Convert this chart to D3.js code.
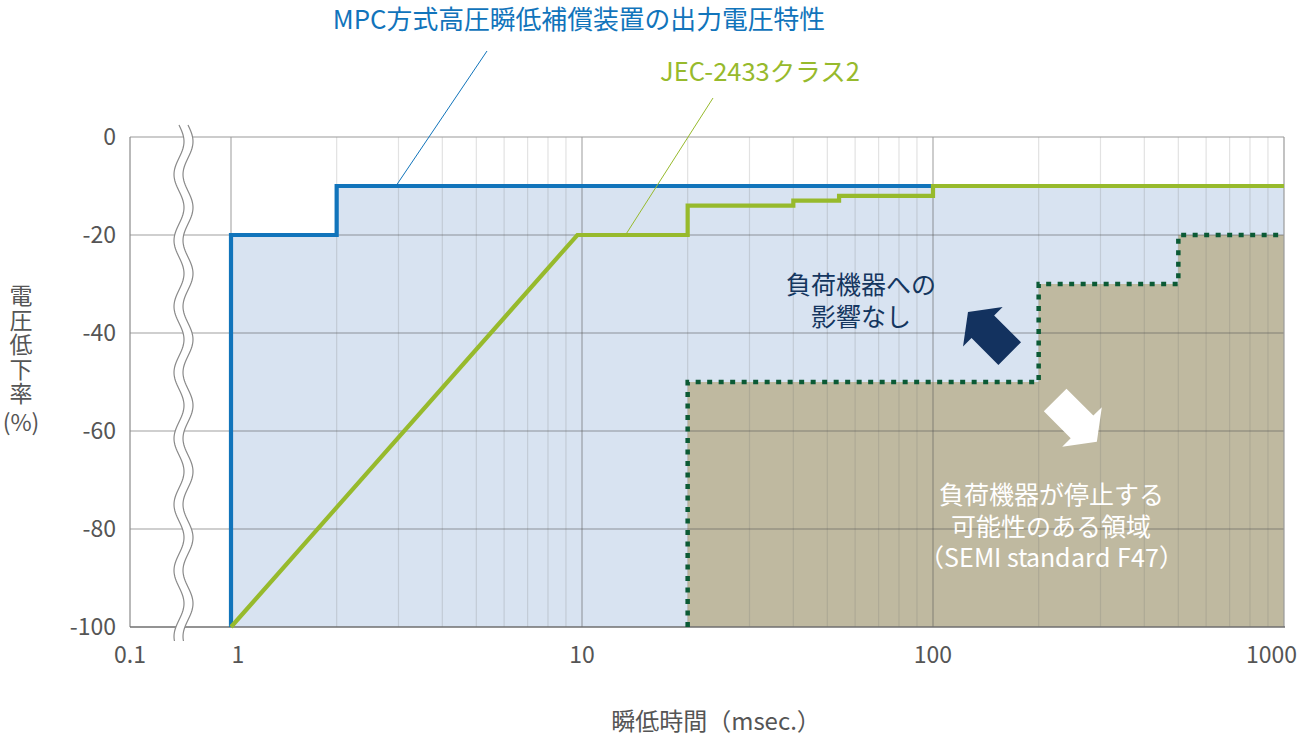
<!DOCTYPE html>
<html><head><meta charset="utf-8">
<script src="https://cdn.jsdelivr.net/npm/d3@7"></script>
<style>
@font-face{font-family:"CJKtight";src:local("Noto Sans CJK JP"),local("Noto Sans CJK JP Regular"),local("NotoSansCJKjp-Regular");ascent-override:90%;descent-override:22%;line-gap-override:0%;}
body{margin:0;background:#fff;}
text{font-family:"Noto Sans CJK JP","Noto Sans",sans-serif;}
text.tight{font-family:"CJKtight","Noto Sans CJK JP","Noto Sans",sans-serif;}
</style></head>
<body><svg id="c" width="1300" height="743"></svg>
<script>
// ---- data ----
const xTickValues = [0.1, 1, 10, 100, 1000];
const xTickLabels = ["0.1", "1", "10", "100", "1000"];
const yTickValues = [0, -20, -40, -60, -80, -100];
const yTickLabels = ["0", "-20", "-40", "-60", "-80", "-100"];

const mpcTime = [1, 1, 2, 2, 100];
const mpcDrop = [-100, -20, -20, -10, -10];
const mpcFillTime = [1000, 1000];
const mpcFillDrop = [-10, -100];

const jecTime = [1, 9.7, 20, 20, 40, 40, 54, 54, 100, 100, 1000];
const jecDrop = [-100, -20, -20, -14, -14, -13, -13, -12, -12, -10, -10];

const semiTime = [20, 20, 200, 200, 500, 500, 1000];
const semiDrop = [-100, -50, -50, -30, -30, -20, -20];
const semiFillTime = [1000];
const semiFillDrop = [-100];

const mpcLabel = "MPC方式高圧瞬低補償装置の出力電圧特性";
const jecLabel = "JEC-2433クラス2";
const safeLines = ["負荷機器への", "影響なし"];
const stopLines = ["負荷機器が停止する", "可能性のある領域", "（SEMI standard F47）"];
const yTitleMain = "電圧低下率";
const yTitleUnit = "(%)";
const xTitle = "瞬低時間（msec.）";

// ---- scales ----
const svg = d3.select("#c");
const x = d3.scaleLog().domain([0.1, 1, 1000]).range([130, 231, 1284]);
const y = d3.scaleLinear().domain([-100, 0]).range([627, 137]);
const X0 = x(0.1), X1 = x(1000), Y0 = y(-100), Y1 = y(0);

const zip = (a, b) => a.map((v, i) => [v, b[i]]);
const line = d3.line().x(d => x(d[0])).y(d => y(d[1]));

// ---- fills ----
svg.append("path")
  .attr("d", line(zip(mpcTime.concat(mpcFillTime), mpcDrop.concat(mpcFillDrop))) + "Z")
  .attr("fill", "#d8e3f1");
svg.append("path")
  .attr("d", line(zip(semiTime.concat(semiFillTime), semiDrop.concat(semiFillDrop))) + "Z")
  .attr("fill", "#bfb9a0");

// ---- grid ----
const minor = x.ticks(40).filter(v => v > 1 && v < 1000 && ![10, 100].includes(v));
svg.append("g").selectAll("line").data(minor).join("line")
  .attr("x1", d => x(d)).attr("x2", d => x(d)).attr("y1", Y1).attr("y2", Y0)
  .attr("stroke", "rgba(110,110,110,0.2)").attr("stroke-width", 1.2);
svg.append("g").selectAll("line").data([1, 10, 100]).join("line")
  .attr("x1", d => x(d)).attr("x2", d => x(d)).attr("y1", Y1).attr("y2", Y0)
  .attr("stroke", "rgba(90,90,90,0.5)").attr("stroke-width", 1.2);
svg.append("g").selectAll("line").data(yTickValues.filter(v => v < 0 && v > -100)).join("line")
  .attr("x1", X0).attr("x2", X1).attr("y1", d => y(d)).attr("y2", d => y(d))
  .attr("stroke", "rgba(80,80,80,0.55)").attr("stroke-width", 1.2);

// frame
svg.append("line").attr("x1", X0).attr("x2", X1).attr("y1", Y1).attr("y2", Y1).attr("stroke", "#9a9a9a").attr("stroke-width", 1.2);
svg.append("line").attr("x1", X1).attr("x2", X1).attr("y1", Y1).attr("y2", Y0).attr("stroke", "#9a9a9a").attr("stroke-width", 1.2);
svg.append("line").attr("x1", X0).attr("x2", X0).attr("y1", Y1).attr("y2", Y0).attr("stroke", "#8a8a8a").attr("stroke-width", 1.2);
svg.append("line").attr("x1", X0).attr("x2", X1 + 1).attr("y1", Y0).attr("y2", Y0).attr("stroke", "#6f6f6f").attr("stroke-width", 1.5);

// ---- SEMI dotted border ----
svg.append("path").attr("d", line(zip(semiTime, semiDrop)))
  .attr("fill", "none").attr("stroke", "#0b5a35").attr("stroke-width", 4.5)
  .attr("stroke-dasharray", "5,6.5");

// ---- series lines ----
svg.append("path").attr("d", line(zip(mpcTime, mpcDrop)))
  .attr("fill", "none").attr("stroke", "#1174bb").attr("stroke-width", 4.2);
svg.append("path").attr("d", line(zip(jecTime, jecDrop)))
  .attr("fill", "none").attr("stroke", "#97ba2c").attr("stroke-width", 4.2);

// ---- axis break (wavy) ----
const breakX = (x(0.1) + x(1)) / 2 + 3;
const wave = (off) => {
  const pts = [];
  for (let yy = 125; yy <= 642; yy += 2) pts.push([breakX + off + 5 * Math.sin((yy - 125) / 66 * 2 * Math.PI), yy]);
  return pts;
};
const wl = wave(-4.5), wr = wave(4.5);
svg.append("path").attr("d", d3.line()(wl.concat(wr.slice().reverse())) + "Z").attr("fill", "#fff");
svg.append("path").attr("d", d3.line()(wl)).attr("fill", "none").attr("stroke", "#8a8a8a").attr("stroke-width", 1.2);
svg.append("path").attr("d", d3.line()(wr)).attr("fill", "none").attr("stroke", "#8a8a8a").attr("stroke-width", 1.2);

// ---- tick labels ----
svg.append("g").selectAll("text").data(yTickValues).join("text")
  .attr("x", X0 - 14).attr("y", d => y(d)).attr("dy", "0.36em")
  .attr("text-anchor", "end").attr("font-size", 23).attr("fill", "#555")
  .text((d, i) => yTickLabels[i]);
svg.append("g").selectAll("text").data(xTickValues).join("text")
  .attr("x", (d, i) => i === xTickValues.length - 1 ? x(d) + 13 : x(d) + (i === 1 ? 7 : 0))
  .attr("y", Y0 + 36)
  .attr("text-anchor", (d, i) => i === xTickValues.length - 1 ? "end" : "middle")
  .attr("font-size", 23).attr("fill", "#555")
  .text((d, i) => xTickLabels[i]);

// axis titles
svg.append("text").attr("x", 21).attr("y", 284)
  .style("writing-mode", "vertical-rl").style("text-orientation", "upright")
  .attr("letter-spacing", 1.5)
  .attr("font-size", 23).attr("fill", "#555").text(yTitleMain);
svg.append("text").attr("x", 21).attr("y", 431).attr("text-anchor", "middle")
  .attr("font-size", 23).attr("fill", "#555").text(yTitleUnit);
svg.append("text").attr("x", 716).attr("y", 730).attr("text-anchor", "middle")
  .attr("font-size", 24).attr("fill", "#555").text(xTitle);

// ---- series labels & leaders ----
svg.append("text").attr("x", 579).attr("y", 29).attr("text-anchor", "middle")
  .attr("font-size", 25.8).attr("fill", "#1174bb").text(mpcLabel);
svg.append("line").attr("x1", 487).attr("y1", 51).attr("x2", x(2.95)).attr("y2", y(-10))
  .attr("stroke", "#1174bb").attr("stroke-width", 1);
svg.append("text").attr("x", 760).attr("y", 81).attr("text-anchor", "middle")
  .attr("font-size", 25.5).attr("fill", "#97ba2c").text(jecLabel);
svg.append("line").attr("x1", 713).attr("y1", 98).attr("x2", x(13.3)).attr("y2", y(-20))
  .attr("stroke", "#97ba2c").attr("stroke-width", 1);

// ---- region annotations ----
svg.append("g").selectAll("text").data(safeLines).join("text").attr("class", "tight")
  .attr("x", 861).attr("y", (d, i) => 294 + i * 32).attr("text-anchor", "middle")
  .attr("font-size", 25).attr("fill", "#14365f").text(d => d);
svg.append("g").selectAll("text").data(stopLines).join("text").attr("class", "tight")
  .attr("x", 1051).attr("y", (d, i) => 504 + i * 31.5).attr("text-anchor", "middle")
  .attr("font-size", 25).attr("fill", "#fff").text(d => d);

// arrows
function arrow(tx, ty, ang, color) {
  const L = 59, H = 21, HW = 28, SW = 16;
  const dx = Math.cos(ang), dy = Math.sin(ang), px = -dy, py = dx;
  const P = (a, b) => [tx + dx * a + px * b, ty + dy * a + py * b];
  const pts = [P(0, 0), P(H, HW), P(H, SW), P(L, SW), P(L, -SW), P(H, -SW), P(H, -HW)];
  svg.append("path").attr("d", d3.line()(pts) + "Z").attr("fill", color);
}
arrow(x(125.8), y(-35.7), Math.PI / 4, "#13325f");
arrow(x(293), y(-62.2), Math.PI * 5 / 4, "#ffffff");
</script></body></html>
